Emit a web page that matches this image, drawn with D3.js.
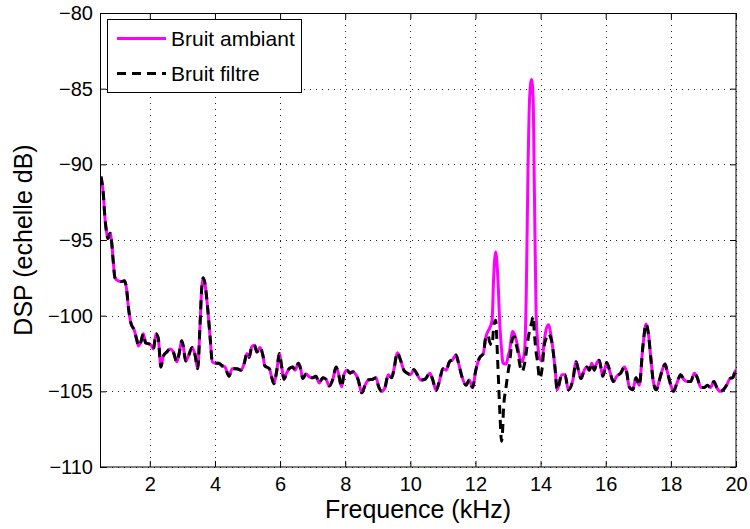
<!DOCTYPE html>
<html>
<head>
<meta charset="utf-8">
<script src="https://cdn.jsdelivr.net/npm/d3@7"></script>
<style>
  body { margin: 0; background: #fff; }
  svg text { font-family: "Liberation Sans", Arial, Helvetica, sans-serif; fill: #000; }
</style>
</head>
<body>
<svg id="chart" width="750" height="529"></svg>
<script>
// Spectral density of the noise, in dB, against frequency in kHz
const freqKHz = [
  0.50, 0.57, 0.62, 0.68, 0.71, 0.78, 0.83, 0.88, 0.93, 1.03,
  1.14, 1.22, 1.29, 1.34, 1.42, 1.52, 1.60, 1.65, 1.73, 1.80,
  1.87, 1.95, 2.04, 2.11, 2.19, 2.26, 2.34, 2.41, 2.52, 2.62,
  2.72, 2.83, 2.90, 2.98, 3.03, 3.10, 3.18, 3.30, 3.39, 3.47,
  3.54, 3.59, 3.64, 3.69, 3.78, 3.85, 3.92, 4.01, 4.12, 4.21,
  4.31, 4.43, 4.53, 4.67, 4.80, 4.90, 4.98, 5.05, 5.13, 5.21,
  5.29, 5.38, 5.47, 5.53, 5.59, 5.67, 5.74, 5.81, 5.90, 5.98,
  6.05, 6.12, 6.20, 6.28, 6.39, 6.46, 6.56, 6.63, 6.70, 6.80,
  6.90, 7.00, 7.10, 7.20, 7.31, 7.41, 7.51, 7.62, 7.72, 7.79,
  7.89, 7.96, 8.05, 8.15, 8.23, 8.33, 8.40, 8.51, 8.61, 8.71,
  8.85, 8.95, 9.02, 9.12, 9.22, 9.32, 9.43, 9.50, 9.60, 9.70,
  9.80, 9.91, 10.01, 10.11, 10.20, 10.32, 10.45, 10.60, 10.69, 10.79,
  10.89, 11.00, 11.10, 11.20, 11.30, 11.40, 11.47, 11.58, 11.71, 11.81,
  11.91, 12.01, 12.12, 12.24, 12.32, 12.39, 12.43, 12.51, 12.56, 12.62,
  12.68, 12.75, 12.80, 12.84, 12.86, 12.94, 13.01, 13.05, 13.11, 13.14,
  13.20, 13.25, 13.31, 13.35, 13.43, 13.51, 13.56, 13.61, 13.66, 13.72,
  13.77, 13.81, 13.86, 13.90, 13.97, 14.04, 14.11, 14.17, 14.24, 14.34,
  14.44, 14.51, 14.65, 14.75, 14.85, 14.99, 15.09, 15.16, 15.24, 15.34,
  15.42, 15.50, 15.57, 15.65, 15.72, 15.80, 15.91, 16.03, 16.13, 16.23,
  16.34, 16.46, 16.57, 16.64, 16.72, 16.83, 16.93, 17.03, 17.14, 17.24,
  17.31, 17.38, 17.46, 17.55, 17.65, 17.75, 17.82, 17.89, 18.00, 18.08,
  18.18, 18.30, 18.41, 18.51, 18.61, 18.72, 18.81, 18.92, 19.02, 19.12,
  19.22, 19.32, 19.41, 19.51, 19.61, 19.71, 19.82, 19.90, 19.97, 20.00
];

const bruitAmbiant = [
  -90.8, -91.9, -93.5, -94.6, -94.9, -94.55, -95.2, -96.5, -97.5, -97.7,
  -97.75, -97.7, -98.3, -99.4, -100.5, -100.95, -101.6, -102.0, -101.7, -101.2,
  -101.8, -101.85, -101.95, -102.2, -101.2, -101.5, -103.4, -102.7, -102.4, -102.2,
  -102.4, -103.05, -102.5, -101.65, -102.05, -103.0, -102.7, -102.1, -102.6, -103.5,
  -100.7, -98.3, -97.5, -97.85, -99.6, -101.4, -103.05, -103.15, -103.15, -103.3,
  -103.4, -104.0, -103.5, -103.5, -103.6, -103.15, -102.5, -102.75, -102.05, -101.95,
  -102.4, -102.1, -102.6, -103.3, -103.4, -103.5, -104.05, -104.5, -103.6, -102.5,
  -103.4, -104.2, -103.8, -103.5, -103.4, -103.6, -103.15, -103.5, -104.15, -103.85,
  -104.05, -104.1, -104.0, -104.45, -104.1, -104.2, -104.65, -104.2, -103.4, -103.8,
  -104.7, -103.9, -103.6, -103.8, -103.7, -103.9, -104.25, -105.1, -104.6, -104.25,
  -104.2, -104.1, -104.65, -105.0, -104.75, -103.9, -104.1, -103.5, -102.45, -102.95,
  -103.6, -103.8, -103.9, -103.55, -103.85, -104.25, -104.2, -103.8, -104.25, -104.95,
  -104.35, -103.5, -103.6, -103.05, -102.9, -102.6, -103.05, -104.0, -104.6, -104.25,
  -104.75, -103.6, -102.8, -102.5, -101.4, -101.0, -100.85, -100.3, -97.4, -95.8,
  -97.2, -100.7, -102.2, -103.1, -103.15, -103.2, -102.6, -102.3, -101.3, -101.05,
  -101.25, -101.6, -102.2, -102.7, -103.05, -102.3, -98.5, -90.8, -85.75, -84.4,
  -85.6, -91.9, -99.6, -101.5, -102.8, -103.0, -101.7, -100.9, -100.6, -101.6,
  -103.4, -104.9, -103.9, -103.9, -104.9, -104.25, -103.05, -103.6, -104.15, -103.6,
  -103.4, -103.6, -103.15, -103.6, -103.15, -102.95, -104.0, -103.1, -103.7, -104.35,
  -104.0, -103.8, -103.4, -103.7, -104.7, -104.9, -104.1, -104.6, -102.05, -100.55,
  -101.2, -102.7, -104.35, -104.9, -104.25, -103.5, -103.2, -103.7, -104.6, -105.0,
  -104.5, -103.9, -104.25, -104.35, -104.35, -103.8, -104.1, -104.75, -104.75, -104.6,
  -104.75, -104.35, -104.75, -105.0, -104.9, -104.6, -104.15, -104.1, -103.7, -103.6
];

const bruitFiltre = [
  -90.8, -91.9, -93.5, -94.6, -94.9, -94.55, -95.2, -96.5, -97.5, -97.7,
  -97.75, -97.7, -98.3, -99.4, -100.5, -100.95, -101.6, -102.0, -101.7, -101.2,
  -101.8, -101.85, -101.95, -102.2, -101.2, -101.5, -103.4, -102.7, -102.4, -102.2,
  -102.4, -103.05, -102.5, -101.65, -102.05, -103.0, -102.7, -102.1, -102.6, -103.5,
  -100.7, -98.3, -97.5, -97.85, -99.6, -101.4, -103.05, -103.15, -103.15, -103.3,
  -103.4, -104.0, -103.5, -103.5, -103.6, -103.15, -102.5, -102.75, -102.05, -101.95,
  -102.4, -102.1, -102.6, -103.3, -103.4, -103.5, -104.05, -104.5, -103.6, -102.5,
  -103.4, -104.2, -103.8, -103.5, -103.4, -103.6, -103.15, -103.5, -104.15, -103.85,
  -104.05, -104.1, -104.0, -104.45, -104.1, -104.2, -104.65, -104.2, -103.4, -103.8,
  -104.7, -103.9, -103.6, -103.8, -103.7, -103.9, -104.25, -105.1, -104.6, -104.25,
  -104.2, -104.1, -104.65, -105.0, -104.75, -103.9, -104.1, -103.5, -102.45, -102.95,
  -103.6, -103.8, -103.9, -103.55, -103.85, -104.25, -104.2, -103.8, -104.25, -104.95,
  -104.35, -103.5, -103.6, -103.05, -102.9, -102.6, -103.05, -104.0, -104.6, -104.25,
  -104.75, -103.6, -102.8, -102.5, -101.4, -101.3, -101.7, -101.95, -100.7, -100.3,
  -102.9, -106.45, -108.3, -107.3, -106.2, -104.7, -103.6, -103.1, -101.85, -101.5,
  -101.4, -101.9, -102.5, -103.1, -103.7, -103.15, -102.4, -101.6, -101.0, -100.5,
  -100.05, -101.2, -102.4, -102.95, -104.15, -103.6, -102.0, -101.5, -101.2, -101.7,
  -103.4, -104.9, -103.9, -103.9, -104.9, -104.25, -103.05, -103.6, -104.15, -103.6,
  -103.4, -103.6, -103.15, -103.6, -103.15, -102.95, -104.0, -103.1, -103.7, -104.35,
  -104.0, -103.8, -103.4, -103.7, -104.7, -104.9, -104.1, -104.6, -102.05, -100.55,
  -101.2, -102.7, -104.35, -104.9, -104.25, -103.5, -103.2, -103.7, -104.6, -105.0,
  -104.5, -103.9, -104.25, -104.35, -104.35, -103.8, -104.1, -104.75, -104.75, -104.6,
  -104.75, -104.35, -104.75, -105.0, -104.9, -104.6, -104.15, -104.1, -103.7, -103.6
];

const xTicks = [2, 4, 6, 8, 10, 12, 14, 16, 18, 20];
const yTicks = [-110, -105, -100, -95, -90, -85, -80];
const seriesNames = ["Bruit ambiant", "Bruit filtre"];
const xLabel = "Frequence (kHz)";
const yLabel = "DSP (echelle dB)";

// ---- layout ----
const svg = d3.select("#chart");
const margin = { left: 100, top: 13, right: 14, bottom: 62 };
const W = 750 - margin.left - margin.right;   // 636
const H = 529 - margin.top - margin.bottom;   // 454

const x = d3.scaleLinear().domain([0.47, 20]).range([0, W]);
const y = d3.scaleLinear().domain([-110, -80]).range([H, 0]);

const g = svg.append("g").attr("transform", `translate(${margin.left},${margin.top})`);

g.append("defs").append("clipPath").attr("id", "plot-clip")
  .append("rect").attr("x", 0).attr("y", 0).attr("width", W).attr("height", H);

// dotted grid
const grid = g.append("g").attr("class", "grid")
  .attr("stroke", "#222").attr("stroke-width", 1).attr("stroke-dasharray", "1,5");
grid.selectAll("line.gx").data(xTicks).join("line")
  .attr("class", "gx")
  .attr("x1", d => Math.round(x(d)) + 0.5).attr("x2", d => Math.round(x(d)) + 0.5)
  .attr("y1", 0).attr("y2", H);
grid.selectAll("line.gy").data(yTicks).join("line")
  .attr("class", "gy")
  .attr("y1", d => Math.round(y(d)) + 0.5).attr("y2", d => Math.round(y(d)) + 0.5)
  .attr("x1", 0).attr("x2", W);

// spectra
const lineGen = d3.line()
  .x((d, i) => x(freqKHz[i]))
  .y(d => y(d))
  .curve(d3.curveMonotoneX);

const plot = g.append("g").attr("clip-path", "url(#plot-clip)");
plot.append("path")
  .datum(bruitAmbiant)
  .attr("fill", "none")
  .attr("stroke", "#ff00ff")
  .attr("stroke-width", 3)
  .attr("stroke-linejoin", "round")
  .attr("d", lineGen);
plot.append("path")
  .datum(bruitFiltre)
  .attr("fill", "none")
  .attr("stroke", "#000")
  .attr("stroke-width", 3)
  .attr("stroke-dasharray", "9,6")
  .attr("d", lineGen);

// axes with inward ticks on all four sides
const tickFont = "20px";
const axB = g.append("g").attr("transform", `translate(0,${H})`)
  .call(d3.axisBottom(x).tickValues(xTicks).tickSizeInner(-6).tickSizeOuter(0).tickPadding(9.5));
const axL = g.append("g")
  .call(d3.axisLeft(y).tickValues(yTicks).tickSizeInner(-6).tickSizeOuter(0).tickPadding(7));
const axT = g.append("g")
  .call(d3.axisTop(x).tickValues(xTicks).tickSizeInner(-6).tickSizeOuter(0).tickFormat(""));
const axR = g.append("g").attr("transform", `translate(${W},0)`)
  .call(d3.axisRight(y).tickValues(yTicks).tickSizeInner(-6).tickSizeOuter(0).tickFormat(""));

[axB, axL, axT, axR].forEach(a => {
  a.select(".domain").remove();
  a.selectAll(".tick line").attr("stroke", "#000").attr("stroke-width", 1);
  a.selectAll(".tick text")
    .attr("font-size", tickFont)
    .attr("font-family", "'Liberation Sans', Arial, sans-serif");
});

// frame
g.append("rect")
  .attr("x", 0.5).attr("y", 0.5).attr("width", W - 0.5).attr("height", H - 0.5)
  .attr("fill", "none").attr("stroke", "#000").attr("stroke-width", 1);

// axis titles
svg.append("text")
  .attr("x", margin.left + W / 2).attr("y", 517.5)
  .attr("text-anchor", "middle").attr("font-size", "25px")
  .text(xLabel);
svg.append("text")
  .attr("transform", `translate(32,${margin.top + H / 2}) rotate(-90)`)
  .attr("text-anchor", "middle").attr("font-size", "25px")
  .text(yLabel);

// legend
const legend = svg.append("g").attr("class", "legend");
legend.append("rect")
  .attr("x", 107.5).attr("y", 19.5).attr("width", 194).attr("height", 73)
  .attr("fill", "#fff").attr("stroke", "#000").attr("stroke-width", 1);
const legendStyles = [
  { color: "#ff00ff", dash: null },
  { color: "#000", dash: "9,6" }
];
const rowY = [38.5, 73.5];
seriesNames.forEach((name, i) => {
  legend.append("line")
    .attr("x1", 117).attr("x2", 166)
    .attr("y1", rowY[i]).attr("y2", rowY[i])
    .attr("stroke", legendStyles[i].color)
    .attr("stroke-width", 3)
    .attr("stroke-dasharray", legendStyles[i].dash);
  legend.append("text")
    .attr("x", 171).attr("y", rowY[i] + 7.7)
    .attr("font-size", "21px")
    .text(name);
});
</script>
</body>
</html>
